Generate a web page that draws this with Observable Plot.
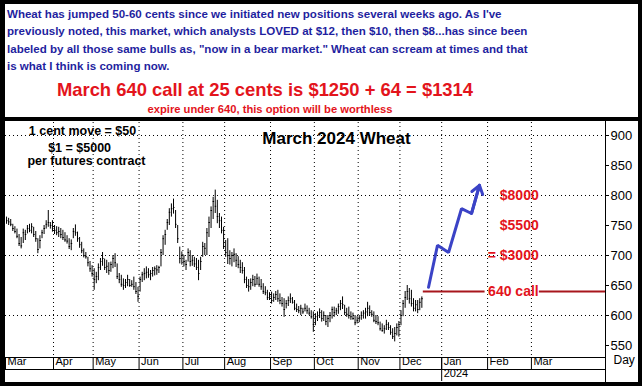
<!DOCTYPE html>
<html><head><meta charset="utf-8">
<script src="https://cdn.jsdelivr.net/npm/d3@7"></script>
<script src="https://cdn.jsdelivr.net/npm/@observablehq/plot@0.6"></script>
<style>
body{margin:0;background:#fff;}
#wrap{position:relative;width:642px;height:388px;overflow:hidden;font-family:Arial,"Liberation Sans",sans-serif;background:#fff;}
#intro{position:absolute;left:7px;top:6px;font-weight:bold;font-size:11.55px;line-height:17.3px;color:#1f1fa0;white-space:nowrap;}
#big{position:absolute;left:0;width:530px;top:79px;text-align:center;font-weight:bold;font-size:18.4px;color:#e3141c;white-space:nowrap;}
#small{position:absolute;left:0;width:540px;top:103px;text-align:center;font-weight:bold;font-size:11.2px;color:#e3141c;white-space:nowrap;}
.ln{position:absolute;background:#000;}
#chart{position:absolute;left:0;top:121px;}
#border{position:absolute;left:0;top:0;width:642px;height:386px;box-sizing:border-box;border:4px solid #000;border-left-width:5px;pointer-events:none;}
</style>
</head><body>
<div id="wrap">
  <div id="intro">Wheat has jumped 50-60 cents since we initiated new positions several weeks ago. As I've<br>previously noted, this market, which analysts LOVED at $12, then $10, then $8...has since been<br>labeled by all those same bulls as, "now in a bear market." Wheat can scream at times and that<br>is what I think is coming now.</div>
  <div id="big">March 640 call at 25 cents is $1250 + 64 = $1314</div>
  <div id="small">expire under 640, this option will be worthless</div>
  <div id="chart"></div>
  <div class="ln" style="left:0;top:117px;width:642px;height:4px"></div>
  <div class="ln" style="left:5px;top:357px;width:600px;height:1px"></div>
  <div class="ln" style="left:5px;top:369px;width:600px;height:1px"></div>
  <div class="ln" style="left:605px;top:121px;width:1px;height:262px"></div>
  <div id="border"></div>
</div>
<script>
// March 2024 Wheat futures, daily bars (trading-day index 0 = 1 Mar 2023)
const high = [
764,762,760,752,748,744,735,730,744,742,
750,752,753,747,740,728,733,742,750,758,
775,755,758,750,748,747,745,742,738,733,
728,726,745,751,739,730,722,711,705,697,
690,683,678,672,686,695,705,694,692,688,
689,700,703,686,670,667,661,660,667,660,
658,664,655,647,664,672,678,681,678,675,
680,681,683,682,710,733,742,760,778,786,
794,775,750,714,706,700,692,711,708,700,
697,695,692,697,722,720,745,764,781,797,
809,792,770,764,747,725,728,708,705,711,
703,698,692,688,680,664,660,661,667,665,
669,664,660,653,648,642,638,639,636,640,
642,636,630,628,625,631,636,630,625,619,
615,617,612,619,616,612,608,606,603,606,
611,608,606,600,600,605,614,614,612,619,
625,631,617,612,614,606,604,600,598,600,
606,608,612,622,616,608,606,600,598,589,
586,583,592,588,583,578,580,586,590,608,
625,640,650,645,642,628,625,625,628,631];
const low = [
752,750,748,740,736,728,715,711,720,725,
736,738,736,730,722,703,711,728,735,744,
747,744,739,735,733,730,728,725,722,719,
710,708,728,732,722,712,703,696,694,681,
672,664,642,653,658,675,682,675,670,667,
672,678,680,660,653,647,642,645,648,647,
647,642,635,622,639,655,658,661,662,658,
664,666,667,670,681,700,717,742,750,764,
769,745,720,686,684,681,675,689,681,682,
680,675,658,675,697,700,700,730,745,760,
770,753,745,736,710,697,685,684,681,688,
680,678,670,669,653,645,639,642,648,647,
650,647,642,635,633,625,625,619,622,625,
622,618,614,597,611,615,620,619,608,605,
603,600,602,606,602,600,594,572,583,590,
595,589,590,583,580,588,594,597,600,602,
608,610,600,597,594,592,592,583,586,588,
592,594,594,598,600,597,588,585,583,574,
572,569,575,575,567,560,556,566,564,583,
598,612,625,619,614,606,606,603,608,612];
const close = [
758,756,752,745,740,732,720,716,738,735,
745,742,748,735,728,710,725,738,745,752,
755,750,745,742,738,740,735,730,726,724,
715,720,740,738,728,718,708,700,698,688,
678,670,660,665,680,690,695,680,682,675,
685,695,688,665,660,652,650,655,660,650,
652,648,640,632,660,668,670,672,668,670,
675,678,676,680,705,728,735,755,772,778,
780,752,728,695,700,690,685,705,690,692,
686,680,670,690,715,712,738,755,775,790,
782,765,758,742,715,705,700,695,700,702,
692,685,680,675,660,650,648,655,660,652,
662,652,648,640,638,630,632,625,630,635,
628,625,620,610,620,625,628,622,612,610,
608,612,606,612,608,604,598,585,598,600,
605,595,600,590,595,600,610,605,608,615,
620,618,605,602,600,598,595,588,592,596,
600,604,606,612,605,602,592,590,588,578,
575,578,585,580,572,565,570,580,585,600,
620,630,640,628,620,612,618,610,622,628];

const monthStarts = [0,23,42,64,85,105,127,148,169,189,209,231,252];
const monthLabels = ["Mar","Apr","May","Jun","Jul","Aug","Sep","Oct","Nov","Dec","Jan","Feb","Mar"];
const yearStart = [209];
const yearLabels = ["2024"];
const yTicks = [550,600,650,700,750,800,850,900];
const gridY = [600,700,800,900];
const strike = 640;
const profitPrices = [800,750,700];
const profitLabels = ["$8000","$5500","= $3000"];
const arrowX = [202.7,207,212.3,218.5,223.3,227.1];
const arrowY = [647,717,705,778,770,817];

const bars = high.map((h,i)=>({i, high:h, low:low[i], close:close[i]}));
const arrowPts = arrowX.map((x,i)=>({x, y:arrowY[i]}));
const lastSeg = [arrowPts[arrowPts.length-2], arrowPts[arrowPts.length-1]];
const red = "#e3141c";
const labelEnd = 255.5, labelStart = 229.8, xEnd = 287.5;

const chart = Plot.plot({
  width: 642, height: 267,
  marginLeft: 5, marginRight: 37, marginTop: 1, marginBottom: 31,
  x: {domain: [0, xEnd], axis: null},
  y: {domain: [530, 921.67], axis: null},
  style: {background: "transparent", color: "#000", fontFamily: "Arial, 'Liberation Sans', sans-serif", fontSize: "11px", overflow: "visible"},
  marks: [
    Plot.ruleY(gridY, {stroke: "#000", strokeDasharray: "1,3"}),
    Plot.ruleX(monthStarts.slice(1), {stroke: "#000", strokeDasharray: "1,3"}),
    Plot.ruleX(bars, {x: d => d.i + 0.5, y1: "low", y2: "high", stroke: "#000", strokeWidth: 1}),
    Plot.ruleY(bars, {y: "close", x1: d => d.i + 0.5, x2: d => d.i + 1.2, stroke: "#000", strokeWidth: 1}),
    Plot.ruleY([strike], {x1: high.length + 0.2, x2: labelStart, stroke: "#a8161c", strokeWidth: 2}),
    Plot.ruleY([strike], {x1: labelEnd + 0.3, x2: xEnd, stroke: "#a8161c", strokeWidth: 2}),
    Plot.text(["640 call"], {x: labelEnd, y: strike, textAnchor: "end", fill: red, fontWeight: "bold", fontSize: 14}),
    Plot.text(profitLabels, {x: labelEnd, y: (d,i) => profitPrices[i], text: d => d, textAnchor: "end", fill: red, fontWeight: "bold", fontSize: 14}),
    Plot.line(arrowPts, {x: "x", y: "y", stroke: "#3b43c6", strokeWidth: 3, strokeLinejoin: "miter"}),
    Plot.arrow(lastSeg.slice(0,1), {x1: d => lastSeg[0].x, y1: d => lastSeg[0].y, x2: d => lastSeg[1].x, y2: d => lastSeg[1].y, stroke: "#3b43c6", strokeWidth: 3, headLength: 14, headAngle: 70}),
    Plot.text(["1 cent move = $50"], {x: 36.9, y: 908, fontWeight: "bold", fontSize: 12.5}),
    Plot.text(["$1 = $5000"], {x: 35.5, y: 880, fontWeight: "bold", fontSize: 12.5}),
    Plot.text(["per futures contract"], {x: 38.8, y: 858, fontWeight: "bold", fontSize: 12.5}),
    Plot.text(["March 2024 Wheat"], {x: 158.6, y: 895, fontWeight: "bold", fontSize: 17}),
    Plot.axisY({anchor: "right", ticks: yTicks, tickSize: 3, tickPadding: 2, fontSize: 13, label: null}),
    Plot.axisX({ticks: monthStarts, tickSize: 12, tickFormat: () => "", label: null}),
    Plot.axisX({ticks: yearStart, tickSize: 24, tickFormat: () => "", label: null}),
    Plot.text(monthStarts, {x: d => d, frameAnchor: "bottom", text: (d,i) => monthLabels[i], textAnchor: "start", dx: 2, dy: 7, fontSize: 11}),
    Plot.text(yearStart, {x: d => d, frameAnchor: "bottom", text: (d,i) => yearLabels[i], textAnchor: "start", dx: 2, dy: 19, fontSize: 11}),
    Plot.text(["Day"], {frameAnchor: "bottom-right", textAnchor: "start", dx: 8, dy: 6, fontSize: 12})
  ]
});
document.getElementById("chart").appendChild(chart);
</script>
</body></html>
